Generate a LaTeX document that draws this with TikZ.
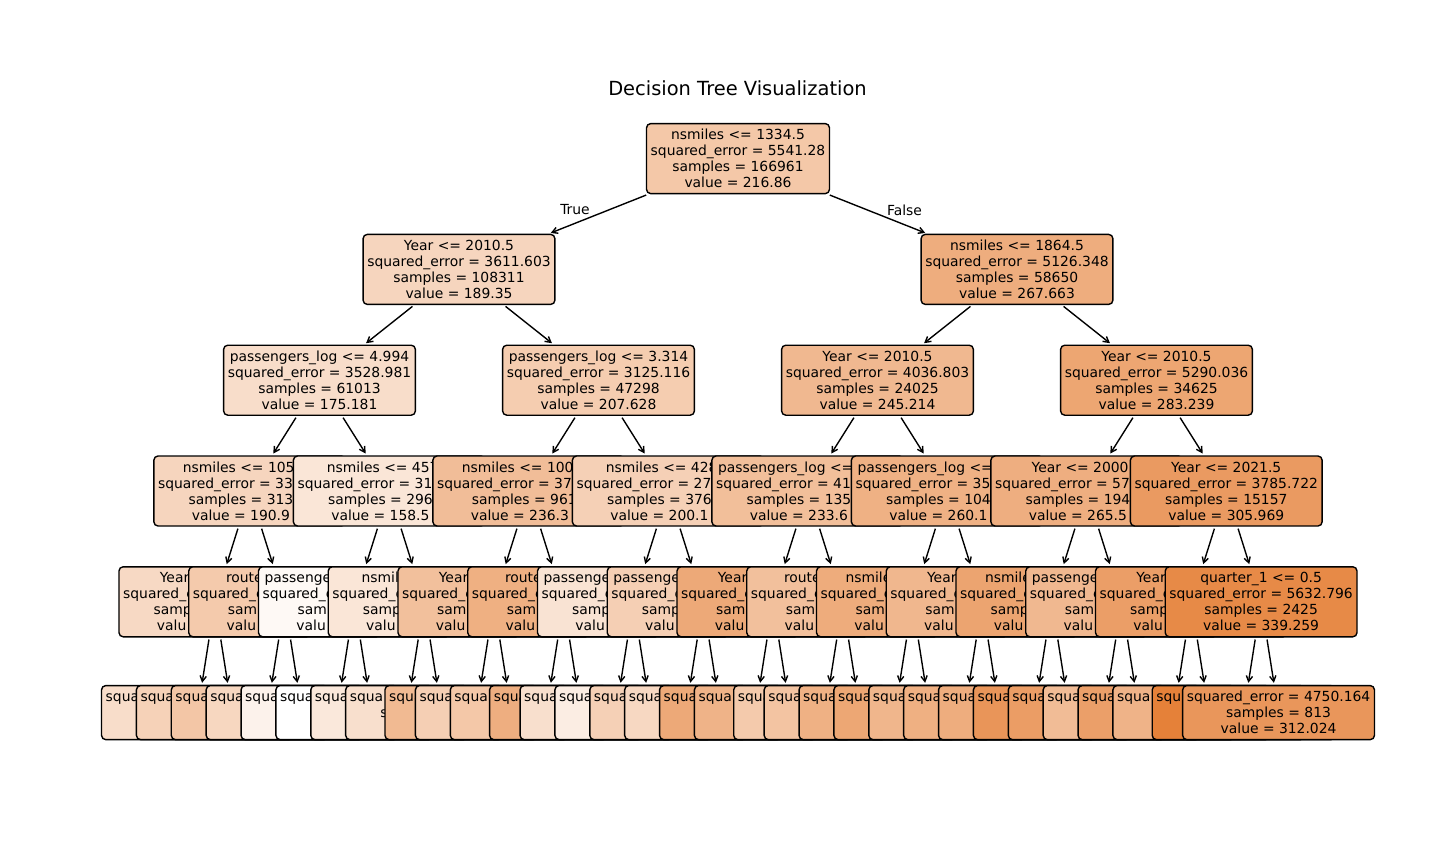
\documentclass[tikz,border=0pt]{standalone}
\usepackage{fontspec}
\setmainfont{DejaVu Sans}
\usetikzlibrary{arrows.meta}

\definecolor{treeorange}{RGB}{229,129,57}

% text of the boxes that are partly covered by their right neighbour
\newcommand{\sqline}{squared\_e\phantom{rror = 0000.000}}
\newcommand{\sampfive}{samp\phantom{les = 00000}}
\newcommand{\sampfour}{sam\phantom{ples = 0000}}
\newcommand{\valline}{valu\phantom{e = 000.000}}
\newcommand{\yearline}{Year\phantom{ <= 2010.5}}
\newcommand{\routeline}{route\phantom{\_AA <= 0.5}}
\newcommand{\passline}{passenge\phantom{rs\_log <= 0.000}}
\newcommand{\nsmthree}{nsmil\phantom{es <= 000.5}}
\newcommand{\nsmfour}{nsmile\phantom{s <= 0000.5}}

\begin{document}
\begin{tikzpicture}[x=0.72bp, y=-0.72bp,
  box/.style={rectangle, draw=black, line width=1bp, rounded corners=3bp, inner xsep=3bp, inner ysep=2bp, minimum height=50.4bp, align=center, font=\fontsize{10bp}{11.52bp}\selectfont},
  leaf/.style={box, minimum height=38.9bp},
  arrow/.style={-{Straight Barb[length=4bp,width=4.5bp]}, line width=1bp, shorten >=1.5bp, shorten <=1.5bp},
  edgelabel/.style={inner sep=0pt, font=\fontsize{10bp}{12bp}\selectfont}
]
\useasboundingbox (0,0) rectangle (1440,864);

\node[font=\fontsize{14bp}{17bp}\selectfont] (title) at (737.5,88.5) {Decision Tree Visualization};

\node[box, fill=treeorange!44!white] (root) at (738,158.6) {nsmiles <= 1334.5\\squared\_error = 5541.28\\samples = 166961\\value = 216.86};

\node[box, fill=treeorange!33!white] (n1-0) at (459,269.4) {Year <= 2010.5\\squared\_error = 3611.603\\samples = 108311\\value = 189.35};
\node[box, fill=treeorange!65!white] (n1-1) at (1017,269.4) {nsmiles <= 1864.5\\squared\_error = 5126.348\\samples = 58650\\value = 267.663};

\node[box, fill=treeorange!27!white] (n2-0) at (319.5,380.2) {passengers\_log <= 4.994\\squared\_error = 3528.981\\samples = 61013\\value = 175.181};
\node[box, fill=treeorange!40!white] (n2-1) at (598.5,380.2) {passengers\_log <= 3.314\\squared\_error = 3125.116\\samples = 47298\\value = 207.628};
\node[box, fill=treeorange!56!white] (n2-2) at (877.5,380.2) {Year <= 2010.5\\squared\_error = 4036.803\\samples = 24025\\value = 245.214};
\node[box, fill=treeorange!71!white] (n2-3) at (1156.5,380.2) {Year <= 2010.5\\squared\_error = 5290.036\\samples = 34625\\value = 283.239};

\node[box, fill=treeorange!33!white] (n3-0) at (249.75,491) {nsmiles <= 105\phantom{0.5}\\squared\_error = 33\phantom{00.000}\\samples = 313\phantom{00}\\value = 190.9\phantom{00}};
\node[box, fill=treeorange!20!white] (n3-1) at (389.25,491) {nsmiles <= 457\phantom{.5}\\squared\_error = 31\phantom{00.000}\\samples = 296\phantom{00}\\value = 158.5\phantom{00}};
\node[box, fill=treeorange!52!white] (n3-2) at (528.75,491) {nsmiles <= 100\phantom{0.5}\\squared\_error = 37\phantom{00.000}\\samples = 961\phantom{0}\\value = 236.3\phantom{00}};
\node[box, fill=treeorange!37!white] (n3-3) at (668.25,491) {nsmiles <= 428\phantom{.5}\\squared\_error = 27\phantom{00.000}\\samples = 376\phantom{00}\\value = 200.1\phantom{00}};
\node[box, fill=treeorange!51!white] (n3-4) at (807.75,491) {passengers\_log <=\phantom{ 0.000}\\squared\_error = 41\phantom{00.000}\\samples = 135\phantom{00}\\value = 233.6\phantom{00}};
\node[box, fill=treeorange!62!white] (n3-5) at (947.25,491) {passengers\_log <=\phantom{ 0.000}\\squared\_error = 35\phantom{00.000}\\samples = 104\phantom{00}\\value = 260.1\phantom{00}};
\node[box, fill=treeorange!64!white] (n3-6) at (1086.75,491) {Year <= 2000\phantom{.5}\\squared\_error = 57\phantom{00.000}\\samples = 194\phantom{00}\\value = 265.5\phantom{00}};
\node[box, fill=treeorange!80!white] (n3-7) at (1226.25,491) {Year <= 2021.5\\squared\_error = 3785.722\\samples = 15157\\value = 305.969};

% fourth row, left to right so that each box hides part of the one before
\foreach \pct/\first/\samp [count=\j from 0] in {30/\yearline/\sampfive, 42/\routeline/\sampfour, 5/\passline/\sampfour, 20/\nsmthree/\sampfive, 50/\yearline/\sampfour, 63/\routeline/\sampfour, 22/\passline/\sampfive, 38/\passline/\sampfive, 68/\yearline/\sampfour, 50/\routeline/\sampfour, 66/\nsmfour/\sampfour, 57/\yearline/\sampfour, 72/\nsmfour/\sampfive, 56/\passline/\sampfour, 77/\yearline/\sampfive}
  \node[box, fill=treeorange!\pct!white] (n4-\j) at ({214.875+69.75*\j},601.8) {\first\\\sqline\\\samp\\\valline};
\node[box, fill=treeorange!93!white] (n4-15) at (1261.1,601.8) {quarter\_1 <= 0.5\\squared\_error = 5632.796\\samples = 2425\\value = 339.259};

% leaves
\foreach \pct/\num [count=\j from 0] in {27/0000, 36/0000, 45/0000, 32/0000, 10/0000, 0/0000, 18/0000, 25/0000, 55/000, 38/0000, 44/0000, 64/000, 25/0000, 14/0000, 37/0000, 31/0000, 68/0000, 60/0000, 42/000, 47/0000, 62/0000, 70/0000, 58/0000, 63/0000, 65/0000, 84/0000, 78/0000, 53/0000, 76/0000, 60/0000, 100/000}
  \node[leaf, fill=treeorange!\pct!white] (n5-\j) at ({197.44+34.875*\j},712.6) {squa\phantom{red\_error = \num.000}\\\ifnum\j=7 s\phantom{amples = 00000}\else\phantom{samples = 0000}\fi\\\phantom{value = 000.000}};
\node[leaf, fill=treeorange!83!white] (n5-31) at (1278.56,712.6) {squared\_error = 4750.164\\samples = 813\\value = 312.024};

\draw[arrow] (root) -- (n1-0);
\draw[arrow] (root) -- (n1-1);
\draw[arrow] (n1-0) -- (n2-0);
\draw[arrow] (n1-0) -- (n2-1);
\draw[arrow] (n1-1) -- (n2-2);
\draw[arrow] (n1-1) -- (n2-3);
\draw[arrow] (n2-0) -- (n3-0);
\draw[arrow] (n2-0) -- (n3-1);
\draw[arrow] (n2-1) -- (n3-2);
\draw[arrow] (n2-1) -- (n3-3);
\draw[arrow] (n2-2) -- (n3-4);
\draw[arrow] (n2-2) -- (n3-5);
\draw[arrow] (n2-3) -- (n3-6);
\draw[arrow] (n2-3) -- (n3-7);
\foreach \j in {0,...,7} {
  \pgfmathtruncatemacro{\ka}{2*\j}
  \pgfmathtruncatemacro{\kb}{2*\j+1}
  \draw[arrow] (n3-\j) -- (n4-\ka);
  \draw[arrow] (n3-\j) -- (n4-\kb);
}
\foreach \j in {0,...,15} {
  \pgfmathtruncatemacro{\ka}{2*\j}
  \pgfmathtruncatemacro{\kb}{2*\j+1}
  \draw[arrow] (n4-\j) -- (n5-\ka);
  \draw[arrow] (n4-\j) -- (n5-\kb);
}

\node[edgelabel] (truelbl) at (575,210) {True};
\node[edgelabel] (falselbl) at (904.5,210) {False};
\end{tikzpicture}
\end{document}
